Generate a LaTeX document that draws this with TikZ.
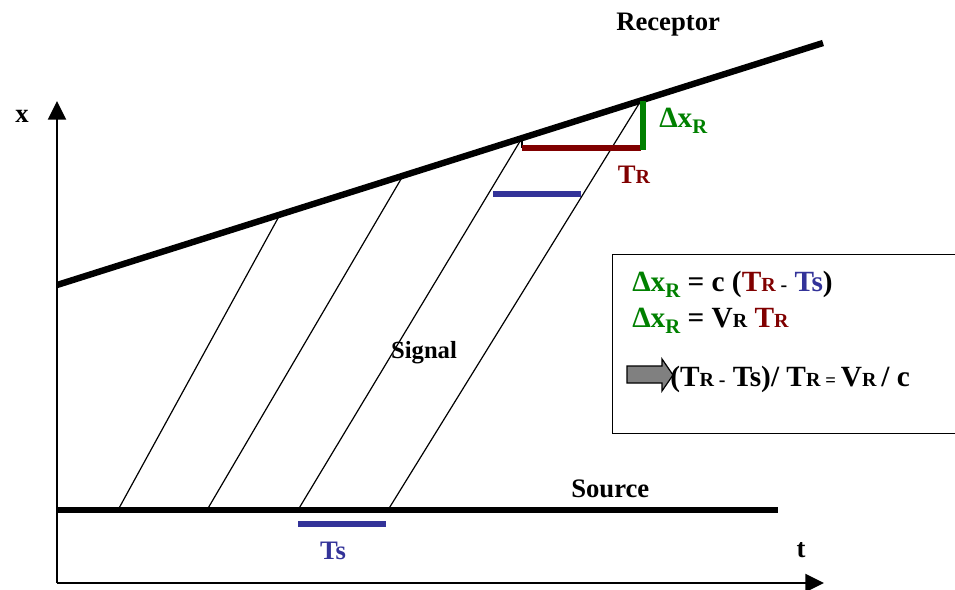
\documentclass[tikz,border=0pt]{standalone}
\usepackage{fontspec}
\setmainfont{Liberation Serif}
\usetikzlibrary{arrows.meta}
\definecolor{cgreen}{RGB}{0,128,0}
\definecolor{cred}{RGB}{128,0,0}
\definecolor{cblue}{RGB}{51,51,153}
\newcommand\smR{{\fontsize{15}{15}\selectfont R}}
\newcommand\smD{{\fontsize{15}{15}\selectfont -}}
\newcommand\subR{\raisebox{-0.22em}{\fontsize{15.5}{15}\selectfont R}}
\tikzset{
  lbl/.style={font=\fontsize{20}{24}\selectfont\bfseries, inner sep=0pt},
  eq/.style={font=\fontsize{22}{26}\selectfont\bfseries, inner sep=0pt, anchor=base west},
  axis/.style={line width=1.6pt, -{Triangle[width=13.5pt,length=14pt]}},
  sig/.style={line width=0.9pt},
  bar/.style={line width=3.8pt},
}
\begin{document}
\begin{tikzpicture}[x=0.75pt,y=-0.75pt]
\useasboundingbox (0,0) rectangle (955,589);
% axes
\coordinate (O) at (57,583);
\coordinate (Ytop) at (57,101);
\coordinate (Xend) at (824,583);
\draw[axis] (O) -- (Ytop);
\draw[axis] (O) -- (Xend);
\node[lbl] (xl) at (22,116) {x};
\node[lbl] (tl) at (801,550) {t};
% receptor and source
\coordinate (R0) at (57,285);
\coordinate (R1) at (823,43);
\draw[line width=4.8pt] (R0) -- (R1);
\coordinate (S0) at (57,510);
\coordinate (S1) at (778,510);
\draw[line width=4pt] (S0) -- (S1);
\node[lbl, anchor=base west] (recl) at (616,30) {Receptor};
\node[lbl, anchor=base west] (srcl) at (571,497) {Source};
% signal lines
\coordinate (a1) at (118,510); \coordinate (b1) at (280,214.5);
\coordinate (a2) at (207,510); \coordinate (b2) at (403,175.7);
\coordinate (a3) at (298,510); \coordinate (b3) at (522,138);
\coordinate (a4) at (388,510); \coordinate (b4) at (641,100.5);
\draw[sig] (a1) -- (b1);
\draw[sig] (a2) -- (b2);
\draw[sig] (a3) -- (b3);
\draw[sig] (a4) -- (b4);
\node[font=\fontsize{18.5}{22}\selectfont\bfseries, inner sep=0pt] (sigl) at (424,353) {Signal};
% Ts bar
\coordinate (ts0) at (298,524); \coordinate (ts1) at (386,524);
\draw[bar, cblue] (ts0) -- (ts1);
\node[lbl, text=cblue] (tsl) at (333,551) {Ts};
% upper blue bar
\coordinate (ub0) at (493,194); \coordinate (ub1) at (581,194);
\draw[bar, cblue] (ub0) -- (ub1);
% TR bar and tick
\coordinate (tr0) at (522,148); \coordinate (tr1) at (641,148);
\draw[line width=0.8pt] (522,137) -- (tr0);
\draw[bar, cred] (tr0) -- (tr1);
\node[lbl, text=cred] (trl) at (634,175) {T\smR};
% green bar
\coordinate (g0) at (643,101); \coordinate (g1) at (643,150);
\draw[bar, cgreen] (g0) -- (g1);
\node[eq, anchor=base west, text=cgreen] (dxl) at (659,127) {Δx\subR};
% box
\node[draw, line width=1pt, minimum width=345pt, minimum height=134pt, anchor=north west, inner sep=0pt] (box) at (612,254) {};
\node[eq] (e1) at (632,291) {\textcolor{cgreen}{Δx\subR} = c (\textcolor{cred}{T\smR}\,\smD\ \textcolor{cblue}{Ts})};
\node[eq] (e2) at (632,327) {\textcolor{cgreen}{Δx\subR} = V\smR\ \textcolor{cred}{T\smR}};
\draw[fill=gray, line width=0.9pt] (627,366) -- (662,366) -- (662,359) -- (673,375) -- (662,391) -- (662,383) -- (627,383) -- cycle;
\node[eq] (e3) at (670,386) {(T\smR\,\smD\ Ts)/ T\smR\,{\fontsize{14}{14}\selectfont =}\,V\smR\,/ c};
\end{tikzpicture}
\end{document}
